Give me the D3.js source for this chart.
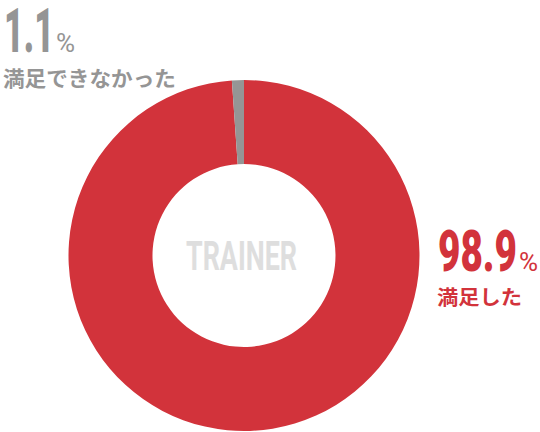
<!DOCTYPE html>
<html>
<head>
<meta charset="utf-8">
<script src="https://cdn.jsdelivr.net/npm/d3@7"></script>
<style>
  body { margin: 0; background: #fff; }
</style>
</head>
<body>
<div id="chart"></div>
<script>
// Data
const categories = ["満足した", "満足できなかった"];
const values = [98.9, 1.1];
const colors = ["#d2333b", "#959595"];
const centerLabel = "TRAINER";

const width = 540;
const height = 432;
const cx = 244;
const cy = 255.5;

const svg = d3
  .select("#chart")
  .append("svg")
  .attr("width", width)
  .attr("height", height);

// donut
const pie = d3.pie().sort(null).value((d) => d);
const arc = d3.arc().innerRadius(91.5).outerRadius(175.5);

const ctr = svg.append("g").attr("transform", `translate(${cx}, ${cy})`);

ctr
  .selectAll("path")
  .data(pie(values))
  .join("path")
  .attr("d", arc)
  .attr("fill", (d, i) => colors[i]);

// center text
ctr
  .append("text")
  .attr("x", -58)
  .attr("y", 14.5)
  .attr("textLength", 111)
  .attr("lengthAdjust", "spacingAndGlyphs")
  .style("font-family", "Roboto, sans-serif")
  .style("font-weight", "700")
  .style("font-size", "41px")
  .style("fill", "#dedede")
  .text(centerLabel);

// label helper: big number + % + caption
function label(x, y, value, cat, color, numW, capY, capW, capSize) {
  const g = svg.append("g");
  g.append("text")
    .attr("x", x)
    .attr("y", y)
    .attr("textLength", numW)
    .attr("lengthAdjust", "spacingAndGlyphs")
    .style("font-family", "Roboto, sans-serif")
    .style("font-weight", "900")
    .style("font-size", value >= 10 ? "58px" : "62px")
    .style("fill", color)
    .text(value.toFixed(1));
  g.append("text")
    .attr("x", x + numW + 2)
    .attr("y", y)
    .style("font-family", "Roboto, sans-serif")
    .style("font-weight", "400")
    .style("font-size", "26px")
    .style("fill", color)
    .text("%");
  g.append("text")
    .attr("x", x - 1)
    .attr("y", capY)
    .attr("textLength", capW)
    .attr("lengthAdjust", "spacingAndGlyphs")
    .style("font-family", "'Noto Sans CJK JP', sans-serif")
    .style("font-weight", "700")
    .style("font-size", capSize + "px")
    .style("fill", color)
    .text(cat);
}

label(4, 52, values[1], categories[1], colors[1], 50, 86, 173, 21);
label(438, 271, values[0], categories[0], colors[0], 79, 305, 85, 20);
</script>
</body>
</html>
